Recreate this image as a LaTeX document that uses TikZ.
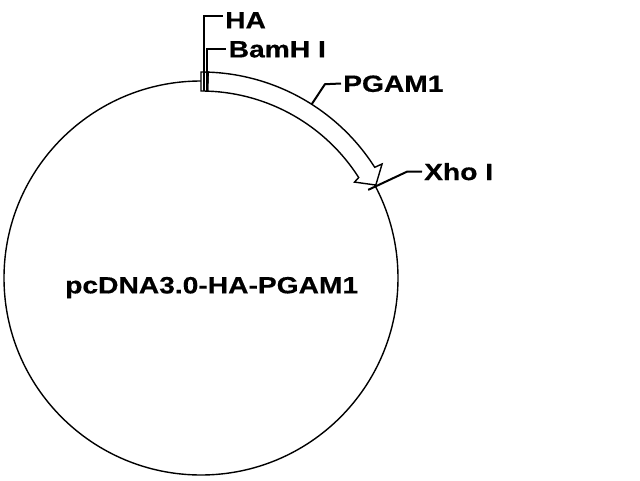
\documentclass[tikz,border=0pt]{standalone}
\usepackage{fontspec}
\setmainfont{Liberation Sans}[FakeStretch=1.2, FakeBold=0.6]
\tikzset{
  lbl/.style={font=\bfseries\fontsize{23.5pt}{28pt}\selectfont, inner xsep=1.5pt, inner ysep=0pt, text height=16.7pt, text depth=0pt},
  lead/.style={line width=2pt},
}
\begin{document}
\begin{tikzpicture}[x=1pt, y=1pt, line width=1.4pt, line join=miter]
  \useasboundingbox (-201,-202) rectangle (439,278);
  \coordinate (c) at (0,0);
  \draw (c) circle (197);
  \node[lbl] (name) at (10.7,-7) {pcDNA3.0-HA-PGAM1};
  \draw[fill=white] (88:206) arc[start angle=88, end angle=32.5, radius=206]
    -- (32.2:214) -- (28:198) -- (32:181) -- (32.5:187)
    arc[start angle=32.5, end angle=88, radius=187] -- cycle;
  \draw[fill=white] (90:206) arc[start angle=90, end angle=88, radius=206]
    -- (88:187) arc[start angle=88, end angle=90, radius=187] -- cycle;
  \node[lbl, anchor=west] (ha) at (22,258) {HA};
  \node[lbl, anchor=west] (bamh) at (25.5,229) {BamH I};
  \node[lbl, anchor=west] (pgam) at (140,194.5) {PGAM1};
  \node[lbl, anchor=west] (xho) at (221,106.3) {Xho I};
  \coordinate (hapt) at (3.5,187);
  \coordinate (bamhpt) at (6.5,187);
  \draw[lead] (hapt) |- ([yshift=4pt]ha.west);
  \draw[lead] (bamhpt) |- (bamh.west);
  \draw[lead] (57.5:206) -- (57.4:230) -- (pgam.west);
  \draw[lead] (27.8:189) -- (27.3:232) -- (xho.west);
\end{tikzpicture}
\end{document}
